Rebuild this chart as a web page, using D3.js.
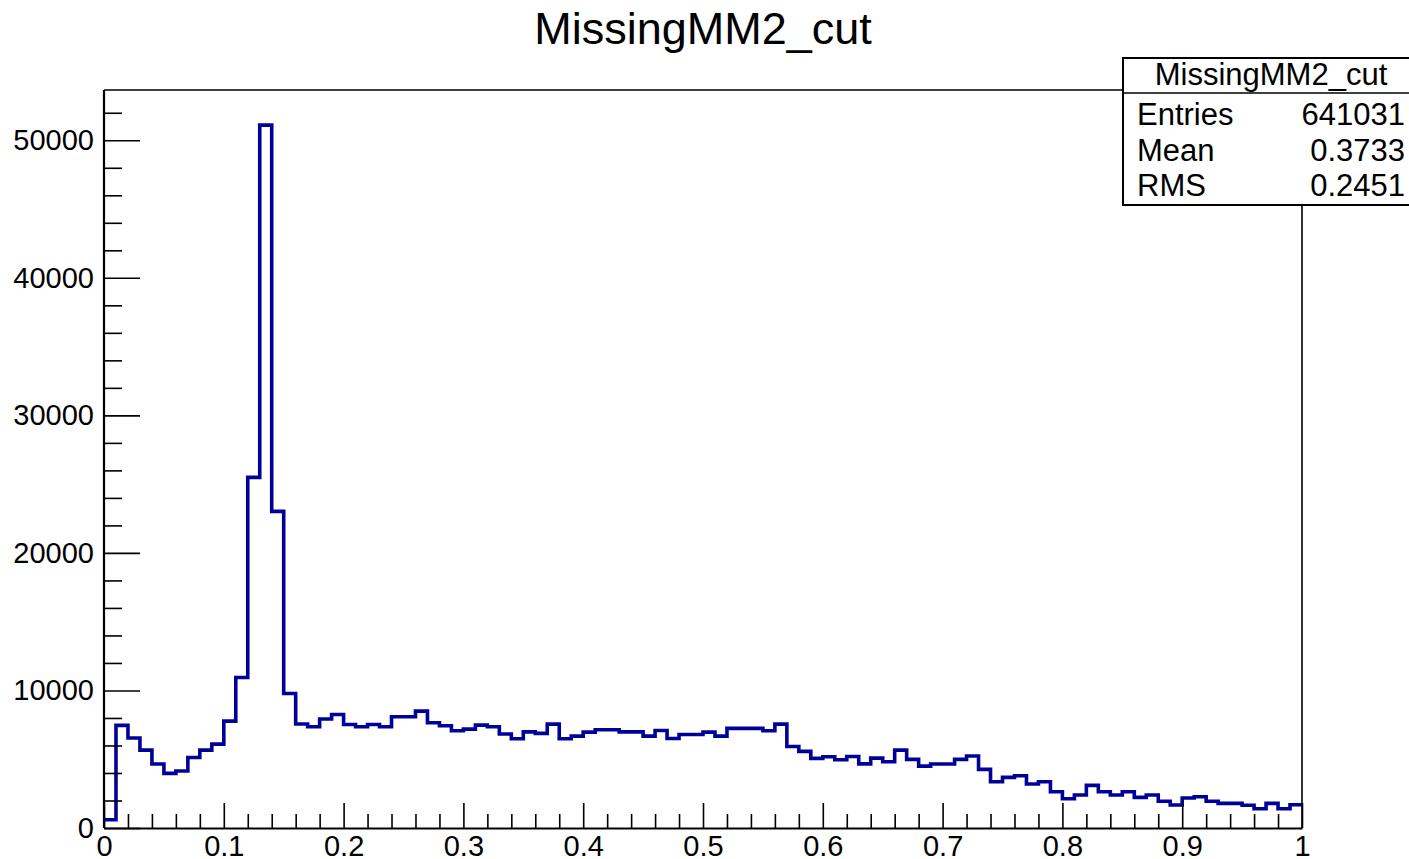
<!DOCTYPE html>
<html>
<head>
<meta charset="utf-8">
<script src="https://cdn.jsdelivr.net/npm/d3@7"></script>
<style>
  html, body { margin: 0; padding: 0; background: #fff; }
  svg { display: block; }
  text { font-family: "Liberation Sans", Arial, Helvetica, sans-serif; fill: #000; }
</style>
</head>
<body>
<svg id="chart" width="1409" height="859"></svg>
<script>
// Histogram definition: 100 equal bins over [0, 1]
const histTitle = "MissingMM2_cut";
const xMin = 0, xMax = 1, binCount = 100;

// Bin contents, one per bin in order
const binCounts = [
  600, 7460, 6540, 5660, 4650, 3970, 4140, 5130, 5660, 6100,
  7770, 10940, 25490, 51100, 23020, 9780, 7560, 7360, 7920, 8250,
  7530, 7360, 7530, 7360, 8090, 8090, 8500, 7650, 7430, 7070,
  7190, 7480, 7360, 6830, 6490, 6990, 6880, 7550, 6490, 6680,
  6970, 7140, 7140, 6990, 6990, 6680, 7090, 6510, 6800, 6800,
  6970, 6680, 7240, 7240, 7240, 7070, 7550, 5930, 5570, 5060,
  5180, 4960, 5200, 4660, 5080, 4820, 5660, 4990, 4500, 4650,
  4650, 4990, 5230, 4260, 3360, 3680, 3800, 3200, 3360, 2640,
  2130, 2400, 3100, 2640, 2400, 2640, 2230, 2400, 1940, 1670,
  2180, 2270, 1940, 1790, 1790, 1650, 1400, 1790, 1400, 1690
];

// Axis ticks
const xTickValues = [0, 0.1, 0.2, 0.3, 0.4, 0.5, 0.6, 0.7, 0.8, 0.9, 1];
const xTickLabels = ["0", "0.1", "0.2", "0.3", "0.4", "0.5", "0.6", "0.7", "0.8", "0.9", "1"];
const yTickValues = [0, 10000, 20000, 30000, 40000, 50000];
const yTickLabels = ["0", "10000", "20000", "30000", "40000", "50000"];

// Statistics box rows
const statNames = ["Entries", "Mean", "RMS"];
const statValues = ["641031", "0.3733", "0.2451"];

const svg = d3.select("#chart");
const frame = { left: 104, right: 1302, top: 90, bottom: 828 };

const x = d3.scaleLinear().domain([xMin, xMax]).range([frame.left, frame.right]);
const yMax = d3.max(binCounts) * 1.05;
const y = d3.scaleLinear().domain([0, yMax]).range([frame.bottom, frame.top]);

// Title
svg.append("text")
  .attr("x", 703).attr("y", 44)
  .attr("text-anchor", "middle")
  .style("font-size", "45px")
  .text(histTitle);

// Frame (top and right edges)
svg.append("path")
  .attr("d", `M${frame.left},${frame.top}H${frame.right}V${frame.bottom}`)
  .attr("fill", "none").attr("stroke", "#000").attr("stroke-width", 1.6);

// Step outline of the histogram
const binWidth = (xMax - xMin) / binCount;
let d = "";
binCounts.forEach((c, i) => {
  const x0 = x(xMin + i * binWidth), x1 = x(xMin + (i + 1) * binWidth);
  d += (i === 0 ? `M${x0},${y(c)}` : `V${y(c)}`) + `H${x1}`;
});
svg.append("path")
  .attr("d", d)
  .attr("fill", "none")
  .attr("stroke", "#000099")
  .attr("stroke-width", 3.6)
  .attr("stroke-linejoin", "miter");

// Minor ticks
const xMinor = d3.range(0, 51).map(i => i * 0.02).filter(v => Math.abs(v * 10 - Math.round(v * 10)) > 1e-6);
const yMinor = d3.range(0, 27).map(i => i * 2000).filter(v => v % 10000 !== 0);

svg.append("g")
  .attr("transform", `translate(0,${frame.bottom})`)
  .call(d3.axisBottom(x).tickValues(xMinor).tickSize(-14).tickFormat(""))
  .call(g => g.select(".domain").remove())
  .call(g => g.selectAll("line").attr("stroke", "#000").attr("stroke-width", 1.6));

svg.append("g")
  .attr("transform", `translate(${frame.left},0)`)
  .call(d3.axisLeft(y).tickValues(yMinor).tickSize(-18).tickFormat(""))
  .call(g => g.select(".domain").remove())
  .call(g => g.selectAll("line").attr("stroke", "#000").attr("stroke-width", 1.6));

// Major axes with labels
const xAxis = svg.append("g")
  .attr("transform", `translate(0,${frame.bottom})`)
  .call(d3.axisBottom(x).tickValues(xTickValues).tickSize(-25).tickSizeOuter(0).tickPadding(7)
    .tickFormat((v, i) => xTickLabels[i]));
xAxis.select(".domain").attr("stroke", "#000").attr("stroke-width", 2.2);
xAxis.selectAll("line").attr("stroke", "#000").attr("stroke-width", 1.6);
xAxis.selectAll("text").style("font-size", "29px").attr("fill", "#000");

const yAxis = svg.append("g")
  .attr("transform", `translate(${frame.left},0)`)
  .call(d3.axisLeft(y).tickValues(yTickValues).tickSize(-36).tickSizeOuter(0).tickPadding(10)
    .tickFormat((v, i) => yTickLabels[i]));
yAxis.select(".domain").attr("stroke", "#000").attr("stroke-width", 2.2)
  .attr("d", `M0,${frame.top}V${frame.bottom}`);
yAxis.selectAll("line").attr("stroke", "#000").attr("stroke-width", 1.6);
yAxis.selectAll("text").style("font-size", "29px").attr("fill", "#000");

// Statistics box
const box = { left: 1123, top: 58, bottom: 205, headerLine: 93, right: 1420 };
const stats = svg.append("g");
stats.append("rect")
  .attr("x", box.left).attr("y", box.top)
  .attr("width", box.right - box.left).attr("height", box.bottom - box.top)
  .attr("fill", "#fff").attr("stroke", "#000").attr("stroke-width", 2);
stats.append("line")
  .attr("x1", box.left).attr("x2", box.right)
  .attr("y1", box.headerLine).attr("y2", box.headerLine)
  .attr("stroke", "#000").attr("stroke-width", 1.6);
stats.append("text")
  .attr("x", 1271).attr("y", 85)
  .attr("text-anchor", "middle")
  .style("font-size", "31px")
  .text(histTitle);
const rowY = [125, 161, 196];
statNames.forEach((name, i) => {
  stats.append("text").attr("x", 1137).attr("y", rowY[i])
    .style("font-size", "31px").text(name);
  stats.append("text").attr("x", 1405).attr("y", rowY[i])
    .attr("text-anchor", "end").style("font-size", "31px").text(statValues[i]);
});
</script>
</body>
</html>
